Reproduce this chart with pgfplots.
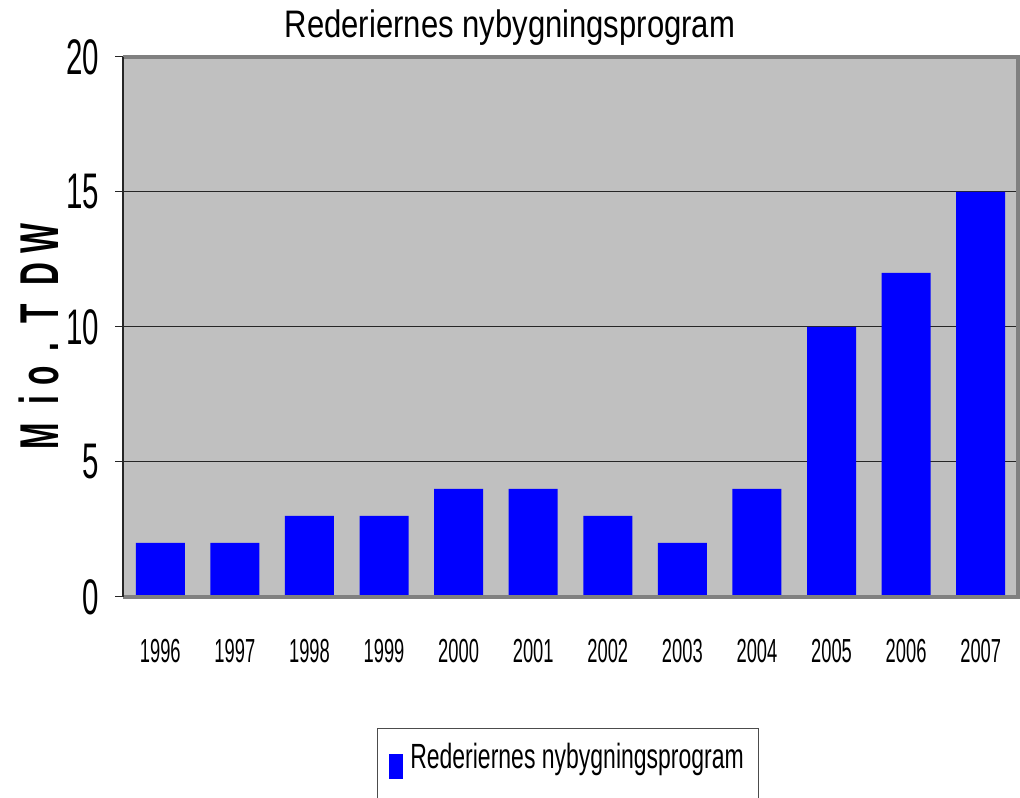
\documentclass[border=0pt]{standalone}
\usepackage{fontspec}
\setmainfont{Liberation Sans}
\newfontfamily\ftitle{Liberation Sans}[FakeStretch=0.81]
\newfontfamily\fyt{Liberation Sans}[FakeStretch=0.59]
\newfontfamily\fxt{Liberation Sans}[FakeStretch=0.55]
\newfontfamily\fleg{Liberation Sans}[FakeStretch=0.657]
\newfontfamily\flab{Liberation Sans Bold}[FakeStretch=0.58]
\usepackage{pgfplots}
\pgfplotsset{compat=1.18}
\definecolor{plotgray}{HTML}{C0C0C0}
\definecolor{bordergray}{HTML}{808080}
\definecolor{barblue}{HTML}{0000FF}
\pgfplotsset{
  every axis title/.style={at={(axis description cs:0.4324,1)}, anchor=base, yshift=14.25pt,
    font=\ftitle\fontsize{28.75pt}{34pt}\selectfont},
  every axis y label/.style={at={([xshift=-48pt]axis description cs:0,0.4824)}, rotate=90, anchor=base,
    font=\flab\fontsize{41pt}{48pt}\selectfont},
}
\begin{document}
\begin{tikzpicture}
\path[use as bounding box] (-92.25pt,-150.75pt) rectangle (672.75pt,447.75pt);
\begin{axis}[
  at={(0,0)}, anchor=south west,
  scale only axis, width=671.25pt, height=405pt,
  clip mode=individual,
  xmin=-0.5, xmax=11.5, ymin=0, ymax=20,
  ybar, bar width=36.75pt,
  xtick=data,
  xticklabels={1996,1997,1998,1999,2000,2001,2002,2003,2004,2005,2006,2007},
  ytick={0,5,10,15,20},
  ymajorgrids, grid style={draw=black!85, line width=0.75pt},
  x tick style={draw=none},
  ytick pos=left, tick align=outside, major tick length=6pt,
  y tick style={draw=black!85, line width=0.75pt},
  axis line style={draw=none},
  axis background/.style={fill=plotgray},
  /pgf/number format/assume math mode=true,
  xticklabel style={font=\fxt\fontsize{25pt}{30pt}\selectfont, anchor=base, inner sep=0pt, yshift=-42.75pt},
  yticklabel style={font=\fyt\fontsize{37.5pt}{45pt}\selectfont, inner sep=0pt, xshift=-11.6pt},
  title={Rederiernes nybygningsprogram},
  ylabel={M\hspace{14pt}i\hspace{7.5pt}o\hspace{11pt}.\hspace{14.5pt}T\hspace{13.5pt}D\hspace{7pt}W},
  legend style={at={(axis description cs:0.2838,-0.2444)}, anchor=north west,
    draw=none, fill=none,
    font=\fleg\fontsize{26.25pt}{31pt}\selectfont,
    inner xsep=9pt, inner ysep=10.5pt, nodes={inner sep=0pt},
    /tikz/every odd column/.append style={column sep=5.25pt}},
  legend image code/.code={\fill[barblue] (0pt,-16.2pt) rectangle (10.5pt,2.55pt);},
]
\addplot[fill=barblue, draw=none, bar shift=0pt] coordinates {
  (0,2) (1,2) (2,3) (3,3) (4,4) (5,4) (6,3) (7,2) (8,4) (9,10) (10,12) (11,15)};
\addlegendentry{Rederiernes nybygningsprogram}
\draw[bordergray, line width=2.6pt] (rel axis cs:0,1) -- (rel axis cs:1,1) -- (rel axis cs:1,0) -- (rel axis cs:0,0);
\draw[black!85, line width=1.5pt] (rel axis cs:0,0) -- (rel axis cs:0,1);
\draw[black!70, line width=0.75pt] (axis description cs:0.2838,-0.2444) rectangle (axis description cs:0.7095,-0.3944);
\end{axis}
\end{tikzpicture}
\end{document}
